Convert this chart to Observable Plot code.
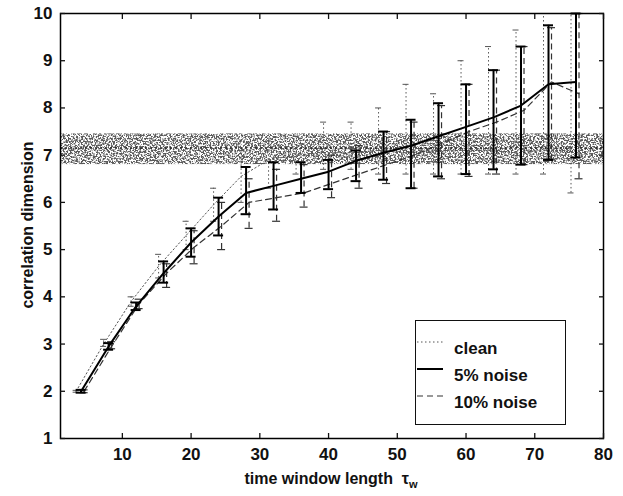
<!DOCTYPE html>
<html>
<head>
<meta charset="utf-8">
<script src="https://cdn.jsdelivr.net/npm/d3@7"></script>
<script src="https://cdn.jsdelivr.net/npm/@observablehq/plot@0.6"></script>
<style>
  html, body { margin: 0; padding: 0; background: #fff; }
  #wrap { position: relative; width: 623px; height: 496px; font-family: "Liberation Sans", Arial, sans-serif; }
  #wrap svg { position: absolute; left: 0; top: 0; }
  .lbl { position: absolute; font-size: 16px; font-weight: bold; color: #111; white-space: nowrap; }
  #ylab { left: 28px; top: 225px; transform: translate(-50%, -50%) rotate(-90deg); }
  #xlab { left: 331px; top: 480px; transform: translate(-50%, -50%); }
  #legend { position: absolute; left: 415px; top: 320px; width: 151px; height: 105px; border: 1.3px solid #111; background: #fff; box-sizing: border-box; }
  .lg { position: absolute; left: 0; height: 26px; width: 150px; }
  .lg svg { position: absolute; left: 5px; top: 7px; }
  .lg span { position: absolute; left: 38px; top: 3px; font-size: 17px; font-weight: bold; color: #111; }
</style>
</head>
<body>
<div id="wrap">
  <div id="ylab" class="lbl">correlation dimension</div>
  <div id="xlab" class="lbl">time window length&nbsp;&nbsp;τ<sub style="font-size:11px">w</sub></div>
</div>
<script>
// ---- data ----
const windowLen = [4, 8, 12, 16, 20, 24, 28, 32, 36, 40, 44, 48, 52, 56, 60, 64, 68, 72, 76];

const cleanMean = [2.0, 3.0, 3.9, 4.65, 5.3, 5.95, 6.55, 6.9, 7.0, 7.05, 7.05, 7.1, 7.05, 7.1, 7.1, 7.1, 7.05, 7.1, 7.1];
const cleanLo   = [1.98, 2.95, 3.8, 4.4, 5.0, 5.6, 6.0, 6.3, 6.6, 6.7, 6.7, 6.6, 6.6, 6.6, 6.6, 6.6, 6.6, 6.6, 6.2];
const cleanHi   = [2.02, 3.1, 4.0, 4.9, 5.6, 6.3, 7.1, 7.3, 7.4, 7.7, 7.7, 8.0, 8.5, 8.3, 9.0, 9.3, 9.65, 10.0, 10.0];

const noise5Mean = [2.0, 2.95, 3.8, 4.5, 5.15, 5.7, 6.2, 6.35, 6.5, 6.65, 6.88, 7.05, 7.2, 7.4, 7.6, 7.8, 8.05, 8.5, 8.55];
const noise5Lo   = [1.97, 2.88, 3.72, 4.3, 4.85, 5.3, 5.75, 5.85, 6.2, 6.28, 6.45, 6.48, 6.3, 6.55, 6.6, 6.7, 6.8, 6.9, 6.95];
const noise5Hi   = [2.03, 3.02, 3.88, 4.75, 5.45, 6.1, 6.75, 6.85, 6.85, 6.9, 7.1, 7.5, 7.75, 8.1, 8.5, 8.8, 9.3, 9.75, 10.0];

const noise10Mean = [2.0, 2.95, 3.85, 4.5, 5.05, 5.5, 6.0, 6.1, 6.2, 6.4, 6.6, 6.8, 7.0, 7.25, 7.5, 7.7, 7.95, 8.55, 8.3];
const noise10Lo   = [1.97, 2.9, 3.75, 4.2, 4.7, 5.0, 5.45, 5.6, 5.9, 6.1, 6.3, 6.4, 6.3, 6.5, 6.55, 6.6, 6.8, 6.9, 6.5];
const noise10Hi   = [2.03, 3.05, 3.95, 4.7, 5.4, 6.0, 6.5, 6.7, 6.8, 7.0, 7.2, 7.5, 7.7, 8.05, 8.5, 8.8, 9.3, 9.7, 10.0];

// reference band around the true dimension (shaded region)
const bandLo = [6.8];
const bandHi = [7.45];
const refLevel = [7.15];

const xTicks = [10, 20, 30, 40, 50, 60, 70, 80];
const yTicks = [1, 2, 3, 4, 5, 6, 7, 8, 9, 10];

// ---- build tables ----
const mk = (m, lo, hi) => windowLen.map((x, i) => ({x, y: m[i], lo: lo[i], hi: hi[i]}));
const clean = mk(cleanMean, cleanLo, cleanHi);
const n5 = mk(noise5Mean, noise5Lo, noise5Hi);
const n10 = mk(noise10Mean, noise10Lo, noise10Hi);
const band = bandLo.map((lo, i) => ({lo, hi: bandHi[i]}));

function errMarks(data, o) {
  const base = {x: "x", dx: o.dx, stroke: o.stroke, strokeWidth: o.sw, strokeDasharray: o.dash};
  return [
    Plot.ruleX(data, {...base, y1: "lo", y2: "hi"}),
    Plot.ruleY(data, {x1: "x", x2: "x", y: "lo", dx: o.dx, stroke: o.stroke, strokeWidth: o.sw, insetLeft: -o.cap, insetRight: -o.cap}),
    Plot.ruleY(data, {x1: "x", x2: "x", y: "hi", dx: o.dx, stroke: o.stroke, strokeWidth: o.sw, insetLeft: -o.cap, insetRight: -o.cap}),
    Plot.line(data, {x: "x", y: "y", dx: o.dx, stroke: o.stroke, strokeWidth: o.lw, strokeDasharray: o.dash})
  ];
}

const chart = Plot.plot({
  width: 623,
  height: 496,
  marginLeft: 60,
  marginRight: 20,
  marginTop: 13,
  marginBottom: 58,
  style: {fontFamily: "'Liberation Sans', Arial, sans-serif", fontSize: "17px", fontWeight: "bold", color: "#111", background: "transparent"},
  x: {domain: [1, 80], label: null},
  y: {domain: [1, 10], label: null},
  marks: [
    Plot.rectY(band, {x1: 1, x2: 80, y1: "lo", y2: "hi", fill: "#000"}),
    Plot.ruleY(refLevel, {y: d => d, stroke: "#222", strokeWidth: 1.5, strokeDasharray: "2,3"}),
    ...errMarks(clean, {dx: -5, stroke: "#555", sw: 1, dash: "1.5,2.5", cap: 3, lw: 1}),
    ...errMarks(n10, {dx: 3, stroke: "#333", sw: 1.2, dash: "6,4", cap: 4, lw: 1.2}),
    ...errMarks(n5, {dx: 0, stroke: "#000", sw: 2, dash: null, cap: 5, lw: 2}),
    Plot.frame({stroke: "#000", strokeWidth: 1.5}),
    Plot.axisX(xTicks, {anchor: "bottom", tickSize: -5, tickPadding: 14, label: null, strokeWidth: 1.3}),
    Plot.axisX(xTicks, {anchor: "top", tickSize: -5, tickFormat: () => "", label: null, strokeWidth: 1.3}),
    Plot.axisY(yTicks, {anchor: "left", tickSize: -5, tickPadding: 13, label: null, strokeWidth: 1.3}),
    Plot.axisY(yTicks, {anchor: "right", tickSize: -5, tickFormat: () => "", label: null, strokeWidth: 1.3})
  ]
});

const wrap = document.getElementById("wrap");
wrap.insertBefore(chart, wrap.firstChild);

// speckled texture for the band
const NS = "http://www.w3.org/2000/svg";
const defs = document.createElementNS(NS, "defs");
const filt = document.createElementNS(NS, "filter");
filt.setAttribute("id", "speckle");
filt.setAttribute("filterUnits", "objectBoundingBox");
filt.setAttribute("x", "0"); filt.setAttribute("y", "0");
filt.setAttribute("width", "1"); filt.setAttribute("height", "1");
filt.innerHTML = `
  <feTurbulence type="fractalNoise" baseFrequency="0.6" numOctaves="2" seed="7" result="noise"/>
  <feColorMatrix in="noise" type="matrix" values="0 0 0 0 0.1  0 0 0 0 0.1  0 0 0 0 0.1  6 0 0 0 -2.55" result="mask"/>
  <feComposite in="mask" in2="SourceAlpha" operator="in"/>`;
defs.appendChild(filt);
chart.insertBefore(defs, chart.firstChild);
const bandGroup = chart.querySelector('g[aria-label="rect"]');
if (bandGroup) bandGroup.querySelectorAll("rect").forEach(r => r.setAttribute("filter", "url(#speckle)"));

// legend
const legend = document.createElement("div");
legend.id = "legend";
const items = [
  {name: "clean", stroke: "#555", w: 1, dash: "1.5,2.5"},
  {name: "5% noise", stroke: "#000", w: 2, dash: null},
  {name: "10% noise", stroke: "#333", w: 1.2, dash: "6,4"}
];
items.forEach((it, i) => {
  const row = document.createElement("div");
  row.className = "lg";
  row.style.top = (15 + i * 27) + "px";
  row.innerHTML = `<svg width="28" height="12"><line x1="1" x2="27" y1="6" y2="6" stroke="${it.stroke}" stroke-width="${it.w}" ${it.dash ? `stroke-dasharray="${it.dash}"` : ""}/></svg><span>${it.name}</span>`;
  legend.appendChild(row);
});
wrap.appendChild(legend);
</script>
</body>
</html>
